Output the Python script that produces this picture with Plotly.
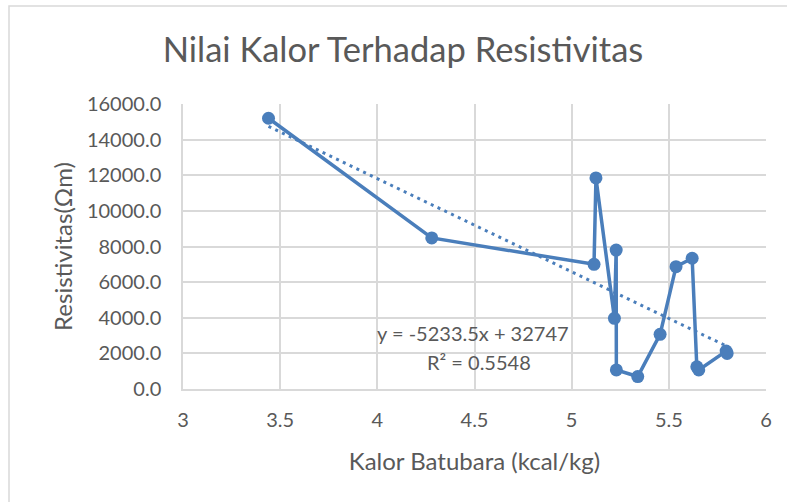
import plotly.graph_objects as go
import numpy as np

kalor = [3.44, 4.28, 5.115, 5.125, 5.22, 5.229, 5.23, 5.34, 5.455, 5.537, 5.62, 5.644, 5.654, 5.795, 5.80]
resistivitas = [15200, 8480, 7000, 11850, 3970, 7800, 1070, 700, 3070, 6870, 7340, 1250, 1070, 2130, 2000]
trend_slope = -5233.5
trend_intercept = 32747
r_squared = 0.5548
x_ticks = [3, 3.5, 4, 4.5, 5, 5.5, 6]
y_ticks = [0, 2000, 4000, 6000, 8000, 10000, 12000, 14000, 16000]

blue = "#4a7ebb"
grey_text = "#595959"
font_family = "Lato, 'Open Sans', sans-serif"

W, H = 787, 502
L, R, T, B = 183, 21, 104, 113
pw, ph = W - L - R, H - T - B

tx = np.array([min(kalor), max(kalor)])
ty = trend_slope * tx + trend_intercept

fig = go.Figure()
fig.add_trace(go.Scatter(x=tx, y=ty, mode="lines",
                         line=dict(color=blue, width=3, dash="3px,4.5px"),
                         hoverinfo="skip", showlegend=False))
fig.add_trace(go.Scatter(x=kalor, y=resistivitas, mode="lines+markers",
                         line=dict(color=blue, width=3.5),
                         marker=dict(color=blue, size=13),
                         showlegend=False))

fig.update_layout(
    width=W, height=H,
    margin=dict(l=L, r=R, t=T, b=B),
    paper_bgcolor="white", plot_bgcolor="white",
    font=dict(family=font_family, color=grey_text, size=20),
    title=dict(text="Nilai Kalor Terhadap Resistivitas", x=403 / W, xanchor="center",
               y=1 - 50 / H, yanchor="middle",
               font=dict(size=34.5, color=grey_text, family=font_family)),
    xaxis=dict(range=[3, 6], tickvals=x_ticks, ticktext=[f"{v:g}" for v in x_ticks],
               showgrid=True, gridcolor="#d9d9d9", gridwidth=1.5,
               showline=True, linecolor="#d9d9d9", linewidth=1.5,
               zeroline=False, ticks="", ticklabelstandoff=12,
               tickfont=dict(size=20, color=grey_text),
               title=dict(text="Kalor Batubara (kcal/kg)", standoff=23,
                          font=dict(size=24, color=grey_text))),
    yaxis=dict(range=[0, 16000], tickvals=y_ticks, ticktext=[f"{v:.1f}" for v in y_ticks],
               showgrid=True, gridcolor="#d9d9d9", gridwidth=1.5,
               showline=True, linecolor="#d9d9d9", linewidth=1.5,
               zeroline=False, ticks="", ticklabelstandoff=16,
               tickfont=dict(size=20, color=grey_text),
               title=dict(text="Resistivitas(Ωm)", standoff=8,
                          font=dict(size=24, color=grey_text))),
    shapes=[dict(type="rect", xref="paper", yref="paper",
                 x0=(9 - L) / pw, x1=(W + 20 - L) / pw,
                 y0=-(B + 20) / ph, y1=(H - B - 6) / ph,
                 line=dict(color="#d9d9d9", width=1.5), layer="below")],
    annotations=[
        dict(xref="x", yref="y", x=4.4925, y=3144,
             text=f"y = {trend_slope}x + {trend_intercept}",
             showarrow=False, font=dict(size=20, color=grey_text)),
        dict(xref="x", yref="y", x=4.523, y=1516,
             text=f"R² = {r_squared}",
             showarrow=False, font=dict(size=20, color=grey_text)),
    ],
)

fig.write_html("out.html", config={"displayModeBar": False},
               post_script="document.body.style.margin='0';document.body.style.overflow='hidden';")
